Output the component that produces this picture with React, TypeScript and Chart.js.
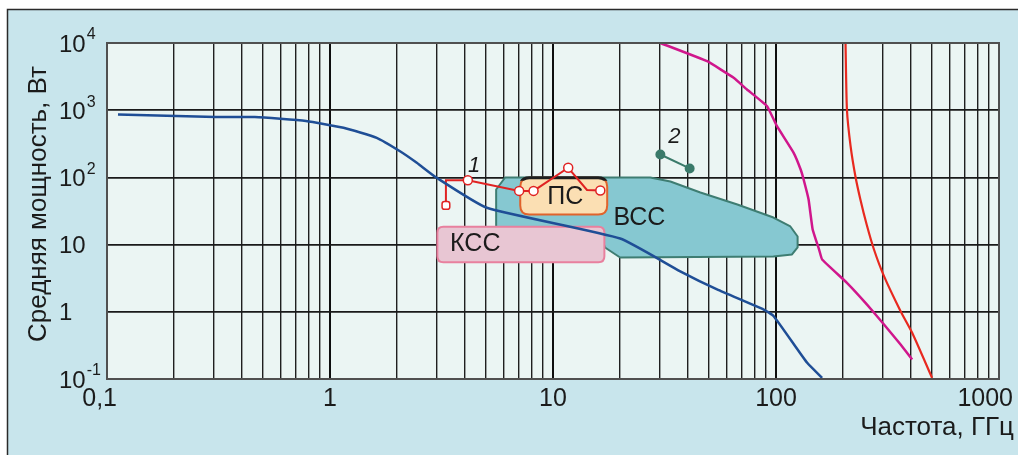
import React, { useEffect, useRef } from 'react';
import { Chart, registerables } from 'chart.js';
Chart.register(...registerables);

const W = 1018;
const H = 455;

const X_MIN = 0.1;
const X_MAX = 1000;
const Y_MIN = 0.1;
const Y_MAX = 10000;

const X_TICK_VALUES = [0.1, 1, 10, 100, 1000];
const X_TICK_LABELS = ['0,1', '1', '10', '100', '1000'];
const Y_TICK_VALUES = [10000, 1000, 100, 10, 1, 0.1];
const Y_TICK_BASES = ['10', '10', '10', '10', '1', '10'];
const Y_TICK_EXPONENTS = ['4', '3', '2', '', '', '-1'];
const X_TITLE = 'Частота, ГГц';
const Y_TITLE = 'Средняя мощность, Вт';

// Blue curve
const BLUE_X = [0.112, 0.307, 0.46, 0.78, 1.15, 1.62, 2.06, 2.45, 3.01, 5.05, 20.0, 37.2, 54.4, 88.1, 97.7, 138, 161];
const BLUE_Y = [863, 795, 790, 690, 547, 388, 245, 165, 98.6, 35.3, 12.3, 4.0, 2.15, 1.08, 0.86, 0.174, 0.104];

// Magenta curve
const MAG_X = [30.3, 49.1, 64.6, 74.1, 91.2, 101, 120, 129, 133, 140, 146, 156, 161, 208, 256, 305, 362, 408];
const MAG_Y = [10000, 5357, 3035, 2033, 1148, 578, 232, 131, 93, 46.8, 16.8, 8.45, 6.0, 2.7, 1.28, 0.647, 0.326, 0.195];

// Red curve (right)
const RED_X = [205, 208, 216, 227, 239, 255, 275, 305, 362, 408, 501];
const RED_Y = [10000, 1024, 291, 104, 46.9, 19.9, 8.45, 3.39, 1.02, 0.487, 0.104];

// Curve 1 (red with markers)
const C1_X = [3.31, 3.31, 4.15, 7.05, 8.18, 11.7, 14.2, 16.3];
const C1_Y = [38.2, 90.8, 90.8, 63, 63, 139, 65, 64];
const C1_MARK = ['rectRounded', '', 'circle', 'circle', 'circle', 'circle', '', 'circle'];

// Curve 2
const C2_X = [30.3, 41.0];
const C2_Y = [219, 136];

// Regions
const VCC_X = [5.56, 6.1, 27.3, 33.6, 45.8, 67.1, 97.4, 116, 125, 125, 118, 97.4, 20.0, 17.1, 16.3, 5.56];
const VCC_Y = [66.1, 99.7, 99.7, 86.9, 59.6, 39.6, 25.3, 18.6, 13.2, 9.06, 7.13, 6.65, 6.43, 9.06, 14.1, 15.7];
const PS_X = [7.13, 17.5];
const PS_Y = [28.1, 98.6];
const KSS_X = [3.03, 17.0];
const KSS_Y = [5.47, 18.4];

// Text labels
const REGION_LABELS = ['ПС', 'ВСС', 'КСС'];
const REGION_LABEL_X = [11.35, 24.4, 4.48];
const REGION_LABEL_Y = [52, 25.7, 10.4];
const CURVE_LABELS = ['1', '2'];
const CURVE_LABEL_X = [4.43, 35.0];
const CURVE_LABEL_Y = [153, 410];

const MULTS = [1, 2, 3, 4, 5, 6, 7, 8, 9];
const X_DECADES = [0.1, 1, 10, 100];
const X_GRID = [...X_DECADES.flatMap((d) => MULTS.map((m) => +(d * m).toPrecision(6))), 1000];
const Y_GRID = [...Y_TICK_VALUES].reverse();

const FONT = '"Liberation Sans", Arial, sans-serif';
const TEXT_COLOR = '#1b1b1b';

const isDecade = (v: number) => Math.abs(Math.log10(v) - Math.round(Math.log10(v))) < 1e-6;

const toPts = (xs: number[], ys: number[]) => xs.map((x, i) => ({ x, y: ys[i] }));

const bgPlugin = {
  id: 'bg',
  beforeDraw(chart: any) {
    const ctx = chart.ctx;
    const { left, top, right, bottom } = chart.chartArea;
    ctx.save();
    ctx.fillStyle = '#ffffff';
    ctx.fillRect(0, 0, W, H);
    ctx.fillStyle = '#c8e5ec';
    ctx.fillRect(7, 9, W - 7, H - 9);
    ctx.strokeStyle = '#2a2a2a';
    ctx.lineWidth = 1.5;
    ctx.beginPath();
    ctx.moveTo(7.5, H);
    ctx.lineTo(7.5, 9.5);
    ctx.lineTo(W, 9.5);
    ctx.stroke();
    ctx.fillStyle = '#ebf5f3';
    ctx.fillRect(left, top, right - left, bottom - top);
    ctx.restore();
  },
};

function roundRectPath(ctx: CanvasRenderingContext2D, x: number, y: number, w: number, h: number, r: number) {
  ctx.beginPath();
  ctx.moveTo(x + r, y);
  ctx.lineTo(x + w - r, y);
  ctx.quadraticCurveTo(x + w, y, x + w, y + r);
  ctx.lineTo(x + w, y + h - r);
  ctx.quadraticCurveTo(x + w, y + h, x + w - r, y + h);
  ctx.lineTo(x + r, y + h);
  ctx.quadraticCurveTo(x, y + h, x, y + h - r);
  ctx.lineTo(x, y + r);
  ctx.quadraticCurveTo(x, y, x + r, y);
  ctx.closePath();
}

const regionsPlugin = {
  id: 'regions',
  beforeDatasetsDraw(chart: any) {
    const ctx = chart.ctx as CanvasRenderingContext2D;
    const xs = chart.scales.x;
    const ys = chart.scales.y;
    ctx.save();
    // ВСС polygon
    ctx.beginPath();
    VCC_X.forEach((x, i) => {
      const px = xs.getPixelForValue(x);
      const py = ys.getPixelForValue(VCC_Y[i]);
      if (i === 0) ctx.moveTo(px, py);
      else ctx.lineTo(px, py);
    });
    ctx.closePath();
    ctx.fillStyle = '#86c8d1';
    ctx.fill();
    ctx.lineJoin = 'round';
    ctx.strokeStyle = '#3e7d72';
    ctx.lineWidth = 2;
    ctx.stroke();

    // КСС box
    {
      const x0 = xs.getPixelForValue(KSS_X[0]);
      const x1 = xs.getPixelForValue(KSS_X[1]);
      const y0 = ys.getPixelForValue(KSS_Y[1]);
      const y1 = ys.getPixelForValue(KSS_Y[0]);
      roundRectPath(ctx, x0, y0, x1 - x0, y1 - y0, 6);
      ctx.fillStyle = '#e8c6d3';
      ctx.fill();
      ctx.strokeStyle = '#e8809e';
      ctx.lineWidth = 2;
      ctx.stroke();
    }
    // ПС box
    {
      const x0 = xs.getPixelForValue(PS_X[0]);
      const x1 = xs.getPixelForValue(PS_X[1]);
      const y0 = ys.getPixelForValue(PS_Y[1]);
      const y1 = ys.getPixelForValue(PS_Y[0]);
      roundRectPath(ctx, x0, y0, x1 - x0, y1 - y0, 9);
      ctx.fillStyle = '#fbdfb3';
      ctx.fill();
      ctx.strokeStyle = '#e0632c';
      ctx.lineWidth = 2;
      ctx.stroke();
      ctx.save();
      ctx.beginPath();
      ctx.rect(x0 - 3, y0 - 4, x1 - x0 + 6, 7);
      ctx.clip();
      roundRectPath(ctx, x0, y0, x1 - x0, y1 - y0, 9);
      ctx.strokeStyle = '#1e1e1e';
      ctx.lineWidth = 3;
      ctx.stroke();
      ctx.restore();
    }
    ctx.restore();
  },
};

const textPlugin = {
  id: 'texts',
  afterDraw(chart: any) {
    const ctx = chart.ctx as CanvasRenderingContext2D;
    const xs = chart.scales.x;
    const ys = chart.scales.y;
    const { left, top, right, bottom } = chart.chartArea;
    ctx.save();
    // plot frame
    ctx.strokeStyle = '#505050';
    ctx.lineWidth = 2;
    ctx.strokeRect(left, top, right - left, bottom - top);

    ctx.fillStyle = TEXT_COLOR;
    // X tick labels
    ctx.font = `25px ${FONT}`;
    ctx.textBaseline = 'alphabetic';
    X_TICK_VALUES.forEach((v, i) => {
      const px = xs.getPixelForValue(v);
      if (i === 0) {
        ctx.textAlign = 'right';
        ctx.fillText(X_TICK_LABELS[i], px + 10, 406);
      } else if (i === X_TICK_VALUES.length - 1) {
        ctx.textAlign = 'right';
        ctx.fillText(X_TICK_LABELS[i], W - 5, 406);
      } else {
        ctx.textAlign = 'center';
        ctx.fillText(X_TICK_LABELS[i], px, 406);
      }
    });
    // Y tick labels
    Y_TICK_VALUES.forEach((v, i) => {
      const py = ys.getPixelForValue(v) + 2;
      ctx.textAlign = 'left';
      ctx.textBaseline = 'middle';
      ctx.font = `24px ${FONT}`;
      ctx.fillText(Y_TICK_BASES[i], 59, py);
      const w = ctx.measureText(Y_TICK_BASES[i]).width;
      if (Y_TICK_EXPONENTS[i]) {
        ctx.font = `16px ${FONT}`;
        ctx.textBaseline = 'middle';
        ctx.fillText(Y_TICK_EXPONENTS[i], 59 + w + 1, py - 10);
      }
    });
    // Axis titles
    ctx.font = `26px ${FONT}`;
    ctx.textAlign = 'right';
    ctx.textBaseline = 'alphabetic';
    ctx.fillText(X_TITLE, 1014, 435);

    ctx.save();
    ctx.translate(46, 204);
    ctx.rotate(-Math.PI / 2);
    ctx.textAlign = 'center';
    ctx.font = `26px ${FONT}`;
    ctx.fillText(Y_TITLE, 0, 0);
    ctx.restore();

    // region labels
    ctx.font = `25px ${FONT}`;
    ctx.textAlign = 'center';
    ctx.textBaseline = 'middle';
    REGION_LABELS.forEach((t, i) => {
      ctx.fillText(t, xs.getPixelForValue(REGION_LABEL_X[i]), ys.getPixelForValue(REGION_LABEL_Y[i]) + 1);
    });
    // curve labels
    ctx.font = `italic 22px ${FONT}`;
    CURVE_LABELS.forEach((t, i) => {
      ctx.fillText(t, xs.getPixelForValue(CURVE_LABEL_X[i]), ys.getPixelForValue(CURVE_LABEL_Y[i]) + 1);
    });
    ctx.restore();
  },
};

export default function App() {
  const ref = useRef<HTMLCanvasElement>(null);
  useEffect(() => {
    document.body.style.margin = '0';
    const canvas = ref.current!;
    const chart = new Chart(canvas, {
      type: 'scatter',
      data: {
        datasets: [
          {
            data: toPts(BLUE_X, BLUE_Y),
            showLine: true,
            borderColor: '#1f4e96',
            borderWidth: 2.5,
            pointRadius: 0,
            tension: 0.15,
          },
          {
            data: toPts(MAG_X, MAG_Y),
            showLine: true,
            borderColor: '#d0168c',
            borderWidth: 2.5,
            pointRadius: 0,
            tension: 0.1,
          },
          {
            data: toPts(RED_X, RED_Y),
            showLine: true,
            borderColor: '#e8291f',
            borderWidth: 2.2,
            pointRadius: 0,
            tension: 0.2,
          },
          {
            data: toPts(C1_X, C1_Y),
            showLine: true,
            borderColor: '#e02222',
            borderWidth: 2,
            pointStyle: C1_MARK.map((m) => (m ? m : false)) as any,
            pointRadius: C1_MARK.map((m) => (m ? 4.5 : 0)),
            pointBackgroundColor: '#ffffff',
            pointBorderColor: '#e02222',
            pointBorderWidth: 1.5,
            tension: 0,
          },
          {
            data: toPts(C2_X, C2_Y),
            showLine: true,
            borderColor: '#3a7a6a',
            borderWidth: 2,
            pointRadius: 4,
            pointBackgroundColor: '#3a7a6a',
            pointBorderColor: '#3a7a6a',
            tension: 0,
          },
        ],
      },
      options: {
        animation: false,
        responsive: false,
        devicePixelRatio: 1,
        layout: { padding: { left: 107, right: 19, top: 43, bottom: 76 } },
        plugins: { legend: { display: false }, tooltip: { enabled: false } },
        scales: {
          x: {
            type: 'logarithmic',
            min: X_MIN,
            max: X_MAX,
            ticks: { display: false },
            border: { display: false },
            afterBuildTicks: (scale: any) => {
              scale.ticks = X_GRID.map((v) => ({ value: v }));
            },
            grid: {
              drawTicks: false,
              color: (c: any) => (c.tick && isDecade(c.tick.value) ? '#0e0e0e' : '#1f1f1f'),
              lineWidth: (c: any) => (c.tick && isDecade(c.tick.value) ? 2 : 1.4),
            },
          },
          y: {
            type: 'logarithmic',
            min: Y_MIN,
            max: Y_MAX,
            ticks: { display: false },
            border: { display: false },
            afterBuildTicks: (scale: any) => {
              scale.ticks = Y_GRID.map((v) => ({ value: v }));
            },
            grid: {
              drawTicks: false,
              color: '#1a1a1a',
              lineWidth: 1.8,
            },
          },
        },
      },
      plugins: [bgPlugin, regionsPlugin, textPlugin],
    } as any);
    return () => chart.destroy();
  }, []);
  return <canvas ref={ref} width={W} height={H} style={{ display: 'block', width: W, height: H }} />;
}
